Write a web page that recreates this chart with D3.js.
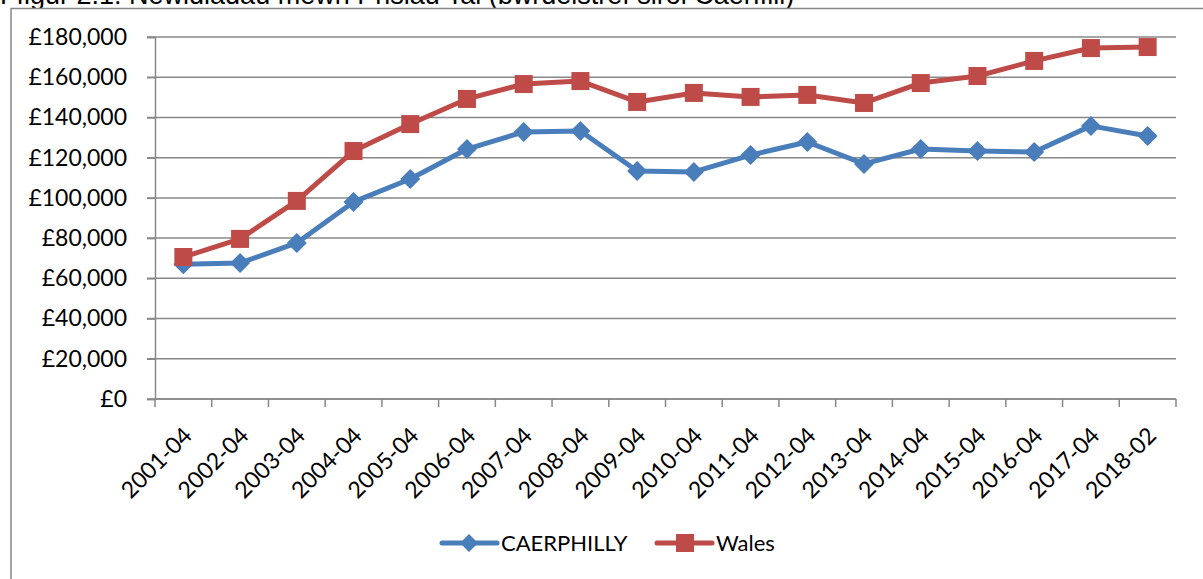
<!DOCTYPE html>
<html>
<head>
<meta charset="utf-8">
<script src="https://cdnjs.cloudflare.com/ajax/libs/d3/7.8.5/d3.min.js"></script>
<style>
  body { margin: 0; background: #fff; }
  svg { display: block; }
</style>
</head>
<body>
<svg width="1203" height="579"></svg>
<script>
var svg = d3.select("svg"),
	width = +svg.attr("width"),
	height = +svg.attr("height");

//data
var periods = ["2001-04", "2002-04", "2003-04", "2004-04", "2005-04", "2006-04", "2007-04", "2008-04", "2009-04",
	"2010-04", "2011-04", "2012-04", "2013-04", "2014-04", "2015-04", "2016-04", "2017-04", "2018-02"];
var caerphilly = [67000, 67600, 77600, 98000, 109400, 124300, 132800, 133300, 113400,
	112900, 121300, 127800, 116900, 124300, 123300, 122800, 135800, 130800];
var wales = [70600, 79600, 98500, 123300, 136700, 149200, 156600, 158100, 147700,
	152200, 150200, 151200, 147200, 157100, 160600, 168100, 174500, 175000];
var yTicks = [0, 20000, 40000, 60000, 80000, 100000, 120000, 140000, 160000, 180000];
var seriesNames = ["CAERPHILLY", "Wales"];

var blue = "#4A7EBB",
	red = "#BE4B48",
	grey = "#888888",
	font = "Lato, 'Open Sans', sans-serif";

//title, cut off at the top of the page as in the original
svg.append("text")
	.attr("x", 0)
	.attr("y", 4)
	.attr("font-family", "'Liberation Sans', Arial, sans-serif")
	.attr("font-size", 27)
	.attr("fill", "#000")
	.text("Ffigur 2.1: Newidiadau mewn Prisiau Tai (bwrdeistref sirol Caerffili)");

//chart frame (runs off the right and bottom edge)
svg.append("rect")
	.attr("x", 11)
	.attr("y", 8.5)
	.attr("width", 1300)
	.attr("height", 700)
	.attr("fill", "white")
	.attr("stroke", grey)
	.attr("stroke-width", 1.5);

var plot = { left: 155, right: 1176, top: 37, bottom: 399 };

var x = d3.scaleBand()
	.domain(periods)
	.range([plot.left, plot.right]);

var y = d3.scaleLinear()
	.domain([0, 180000])
	.range([plot.bottom, plot.top]);

//gridlines
svg.append("g")
	.selectAll("line")
	.data(yTicks)
	.enter().append("line")
	.attr("x1", plot.left - 8)
	.attr("x2", plot.right)
	.attr("y1", function (d) { return y(d); })
	.attr("y2", function (d) { return y(d); })
	.attr("stroke", grey)
	.attr("stroke-width", 1.5);

//y axis
var yAxis = svg.append("g")
	.attr("transform", "translate(" + plot.left + ",0)")
	.call(d3.axisLeft(y)
		.tickValues(yTicks)
		.tickSize(8)
		.tickPadding(20)
		.tickFormat(function (d) { return "£" + d3.format(",")(d); }));
yAxis.select(".domain").attr("stroke", grey).attr("stroke-width", 1.5);
yAxis.selectAll(".tick line").attr("stroke", grey).attr("stroke-width", 1.5);
yAxis.selectAll("text")
	.attr("font-family", font)
	.attr("font-size", 23)
	.attr("fill", "#000");

//x axis: ticks sit on category boundaries
var xAxis = svg.append("g")
	.attr("transform", "translate(0," + plot.bottom + ")");
xAxis.append("line")
	.attr("x1", plot.left)
	.attr("x2", plot.right)
	.attr("stroke", grey)
	.attr("stroke-width", 1.5);
xAxis.selectAll(".tk")
	.data(periods.concat(["end"]))
	.enter().append("line")
	.attr("class", "tk")
	.attr("x1", function (d, i) { return plot.left + i * x.bandwidth(); })
	.attr("x2", function (d, i) { return plot.left + i * x.bandwidth(); })
	.attr("y1", 0)
	.attr("y2", 8)
	.attr("stroke", grey)
	.attr("stroke-width", 1.5);
xAxis.selectAll(".lbl")
	.data(periods)
	.enter().append("text")
	.attr("class", "lbl")
	.attr("text-anchor", "end")
	.attr("font-family", font)
	.attr("font-size", 23)
	.attr("fill", "#000")
	.attr("transform", function (d) {
		return "translate(" + (x(d) + x.bandwidth() / 2 + 10) + ",38) rotate(-45)";
	})
	.text(function (d) { return d; });

//lines and markers
var line = d3.line()
	.x(function (d, i) { return x(periods[i]) + x.bandwidth() / 2; })
	.y(function (d) { return y(d); });

function diamond(sel, cx, cy, r, color) {
	sel.append("path")
		.attr("d", "M" + cx + "," + (cy - r) + "L" + (cx + r) + "," + cy + "L" + cx + "," + (cy + r) + "L" + (cx - r) + "," + cy + "Z")
		.attr("fill", color);
}
function square(sel, cx, cy, r, color) {
	sel.append("rect")
		.attr("x", cx - r)
		.attr("y", cy - r)
		.attr("width", 2 * r)
		.attr("height", 2 * r)
		.attr("fill", color);
}

svg.append("path")
	.datum(caerphilly)
	.attr("d", line)
	.attr("fill", "none")
	.attr("stroke", blue)
	.attr("stroke-width", 5)
	.attr("stroke-linejoin", "round");
var gb = svg.append("g");
caerphilly.forEach(function (d, i) {
	diamond(gb, x(periods[i]) + x.bandwidth() / 2, y(d), 10, blue);
});

svg.append("path")
	.datum(wales)
	.attr("d", line)
	.attr("fill", "none")
	.attr("stroke", red)
	.attr("stroke-width", 5)
	.attr("stroke-linejoin", "round");
var gr = svg.append("g");
wales.forEach(function (d, i) {
	square(gr, x(periods[i]) + x.bandwidth() / 2, y(d), 9, red);
});

//legend
var legend = svg.append("g").attr("transform", "translate(0,543)");
var legendX = [442, 657];
seriesNames.forEach(function (name, i) {
	var c = i == 0 ? blue : red;
	legend.append("line")
		.attr("x1", legendX[i])
		.attr("x2", legendX[i] + 55)
		.attr("stroke", c)
		.attr("stroke-width", 5)
		.attr("stroke-linecap", "round");
	if (i == 0) diamond(legend, legendX[i] + 27, 0, 9, c);
	else square(legend, legendX[i] + 28, 0, 9, c);
	legend.append("text")
		.attr("x", legendX[i] + 59)
		.attr("y", 8)
		.attr("font-family", font)
		.attr("font-size", 22)
		.attr("fill", "#000")
		.text(name);
});
</script>
</body>
</html>
